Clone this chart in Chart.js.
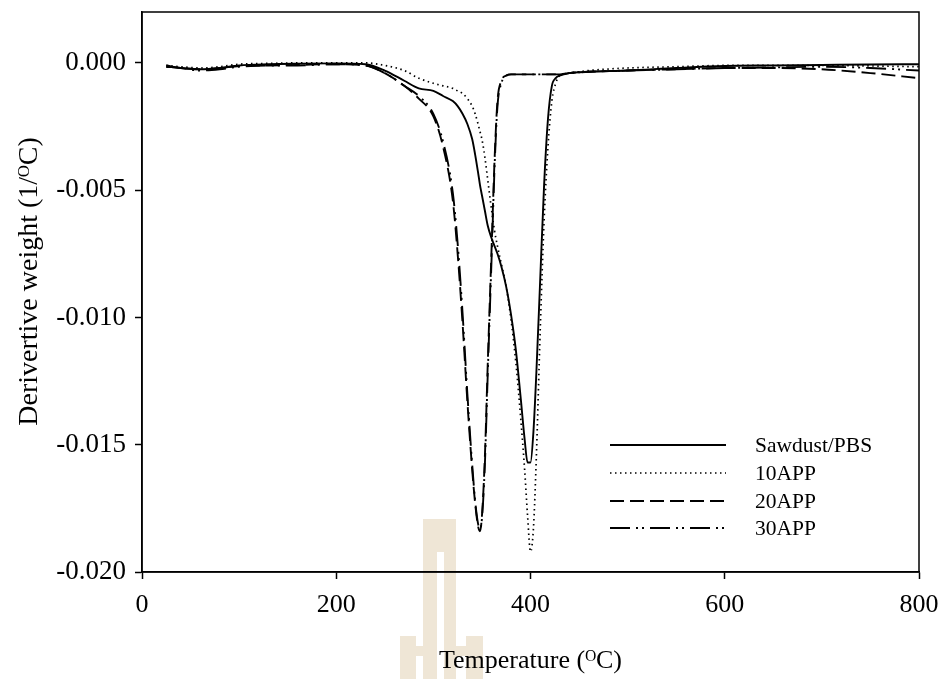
<!DOCTYPE html>
<html>
<head>
<meta charset="utf-8">
<script src="https://cdn.jsdelivr.net/npm/chart.js@4.4.1/dist/chart.umd.min.js"></script>
<style>
  html, body { margin: 0; padding: 0; background: #fff; }
  #wrap { width: 943px; height: 679px; }
</style>
</head>
<body>
<div id="wrap"><canvas id="c" width="943" height="679"></canvas></div>
<script>
// ---- data ----
const temps = [25, 40, 60, 80, 100, 130, 160, 200, 230, 250, 270, 285, 300, 310, 320, 325, 330, 335, 340, 343, 346, 348, 350, 353, 356, 360, 363, 366, 370, 375, 380, 385, 390, 394, 397, 400, 403, 406, 410, 414, 418, 422, 426, 430, 440, 460, 500, 550, 600, 650, 700, 750, 800];

const sawdustPBS = [-0.00015, -0.0002, -0.00025, -0.0002, -0.0001, -0.00005, -0.00003, -0.00002, -0.00005, -0.0003, -0.0007, -0.001, -0.0011, -0.0013, -0.0015, -0.0017, -0.002, -0.0024, -0.003, -0.0036, -0.0043, -0.0048, -0.0052, -0.0058, -0.0064, -0.0069, -0.0072, -0.0075, -0.008, -0.0088, -0.0099, -0.0113, -0.0132, -0.0148, -0.0157, -0.0157, -0.0145, -0.0122, -0.0085, -0.0048, -0.0022, -0.0009, -0.0006, -0.0005, -0.0004, -0.00035, -0.0003, -0.0002, -0.00012, -0.0001, -0.00008, -0.00006, -0.00005];

const app10 = [-0.0001, -0.00015, -0.0002, -0.00015, -0.00005, -0.00002, 0, 0, 0, -0.0001, -0.0003, -0.0006, -0.0008, -0.0009, -0.001, -0.0011, -0.0012, -0.0014, -0.0017, -0.002, -0.0024, -0.0027, -0.003, -0.0037, -0.0046, -0.0058, -0.0066, -0.0072, -0.0079, -0.0088, -0.0101, -0.0118, -0.014, -0.016, -0.0178, -0.0192, -0.0183, -0.0155, -0.0105, -0.0062, -0.0033, -0.0015, -0.0008, -0.0005, -0.0004, -0.0003, -0.0002, -0.00015, -0.0001, -0.0001, -0.0001, -0.00012, -0.00015];

const app20 = [-0.0001, -0.0002, -0.00025, -0.0002, -0.00012, -0.0001, -0.00008, -0.00005, -0.0001, -0.0004, -0.0009, -0.0014, -0.0021, -0.0033, -0.0054, -0.0075, -0.0102, -0.0133, -0.016, -0.0173, -0.0182, -0.0184, -0.0178, -0.0155, -0.0118, -0.0072, -0.0038, -0.0015, -0.0007, -0.0005, -0.00045, -0.00045, -0.00045, -0.00045, -0.00045, -0.00045, -0.00045, -0.00045, -0.00045, -0.00045, -0.00045, -0.00045, -0.00045, -0.00045, -0.0004, -0.00035, -0.0003, -0.00025, -0.0002, -0.0002, -0.00025, -0.0004, -0.0006];

const app30 = [-0.00015, -0.0002, -0.0003, -0.00025, -0.00015, -0.0001, -0.0001, -0.00005, -0.0001, -0.0004, -0.0009, -0.0013, -0.002, -0.0031, -0.0051, -0.0071, -0.0098, -0.013, -0.0158, -0.0172, -0.0181, -0.0183, -0.0179, -0.0158, -0.0122, -0.0076, -0.0041, -0.0017, -0.0008, -0.0005, -0.00045, -0.00045, -0.00045, -0.00045, -0.00045, -0.00045, -0.00045, -0.00045, -0.00045, -0.00045, -0.00045, -0.00045, -0.00045, -0.00045, -0.0004, -0.00035, -0.0003, -0.00025, -0.0002, -0.00018, -0.00015, -0.0002, -0.0003];

const seriesNames = ['Sawdust/PBS', '10APP', '20APP', '30APP'];
const xTicks = [0, 200, 400, 600, 800];
const yTicks = [-0.020, -0.015, -0.010, -0.005, 0.000];

// ---- styling ----
const styles = [
  { dash: [], width: 1.9 },
  { dash: [1.5, 3.5], width: 1.7 },
  { dash: [14, 6], width: 1.9 },
  { dash: [20, 6, 2, 4, 2, 6], width: 1.9 }
];
const allValues = [sawdustPBS, app10, app20, app30];
const FONT = 'Liberation Serif, Times New Roman, serif';

const datasets = allValues.map((vals, i) => ({
  label: seriesNames[i],
  data: temps.map((t, k) => ({ x: t, y: vals[k] })),
  borderColor: '#000',
  borderWidth: styles[i].width,
  borderDash: styles[i].dash,
  pointRadius: 0,
  fill: false,
  cubicInterpolationMode: 'monotone'
}));

const framePlugin = {
  id: 'frame',
  beforeDraw(chart) {
    // faint watermark behind the chart
    const ctx = chart.ctx;
    ctx.save();
    ctx.fillStyle = '#efe6d6';
    ctx.fillRect(423, 519, 14, 160);
    ctx.fillRect(444, 519, 12, 160);
    ctx.fillRect(437, 519, 7, 33);
    ctx.fillRect(400, 636, 16, 43);
    ctx.fillRect(466, 636, 17, 43);
    ctx.fillRect(416, 646, 7, 10);
    ctx.fillRect(456, 646, 10, 10);
    ctx.restore();
  },
  afterDraw(chart) {
    const { ctx, chartArea: a } = chart;
    ctx.save();
    ctx.strokeStyle = '#000';
    ctx.lineWidth = 1.5;
    ctx.strokeRect(a.left, a.top, a.right - a.left, a.bottom - a.top);
    // legend
    const lx1 = 610, lx2 = 726, tx = 755;
    const rows = [445, 473, 501, 528];
    ctx.font = '21.5px ' + FONT;
    ctx.fillStyle = '#000';
    ctx.textBaseline = 'middle';
    ctx.textAlign = 'left';
    rows.forEach((ry, i) => {
      ctx.beginPath();
      ctx.lineWidth = styles[i].width;
      ctx.setLineDash(styles[i].dash);
      ctx.moveTo(lx1, ry);
      ctx.lineTo(lx2, ry);
      ctx.stroke();
      ctx.setLineDash([]);
      ctx.fillText(seriesNames[i], tx, ry + 1);
    });
    ctx.restore();
  }
};

new Chart(document.getElementById('c'), {
  type: 'line',
  data: { datasets },
  options: {
    responsive: false,
    animation: false,
    devicePixelRatio: 1,
    layout: { padding: { top: 12, right: 24, left: 0, bottom: 0 } },
    plugins: { legend: { display: false }, tooltip: { enabled: false } },
    scales: {
      x: {
        type: 'linear',
        min: 0, max: 800,
        afterBuildTicks(s) { s.ticks = xTicks.map(v => ({ value: v })); },
        afterFit(s) { s.height = 107; s.paddingLeft = 0; s.paddingRight = 0; },
        grid: { display: true, drawOnChartArea: false, drawTicks: true, tickLength: 7, color: '#000', tickWidth: 1.5 },
        border: { display: true, color: '#000', width: 1.5 },
        ticks: { color: '#000', font: { family: FONT, size: 26 }, padding: 11, maxRotation: 0 },
        title: { display: true, text: 'Temperature (\u1D3CC)', color: '#000', font: { family: FONT, size: 26 }, padding: { top: 0, bottom: 2 } }
      },
      y: {
        type: 'linear',
        min: -0.020, max: 0.002,
        afterBuildTicks(s) { s.ticks = yTicks.map(v => ({ value: v })); },
        afterFit(s) { s.width = 142; s.paddingTop = 0; s.paddingBottom = 0; },
        grid: { display: true, drawOnChartArea: false, drawTicks: true, tickLength: 7, color: '#000', tickWidth: 1.5 },
        border: { display: true, color: '#000', width: 1.5 },
        ticks: { color: '#000', font: { family: FONT, size: 27 }, padding: 9,
          callback: v => (Math.abs(v) < 1e-9 ? 0 : v).toFixed(3) },
        title: { display: true, text: '   Derivertive weight (1/\u1D3CC)', color: '#000', font: { family: FONT, size: 28 }, padding: { top: 13, bottom: 0 } }
      }
    }
  },
  plugins: [framePlugin]
});
</script>
</body>
</html>
